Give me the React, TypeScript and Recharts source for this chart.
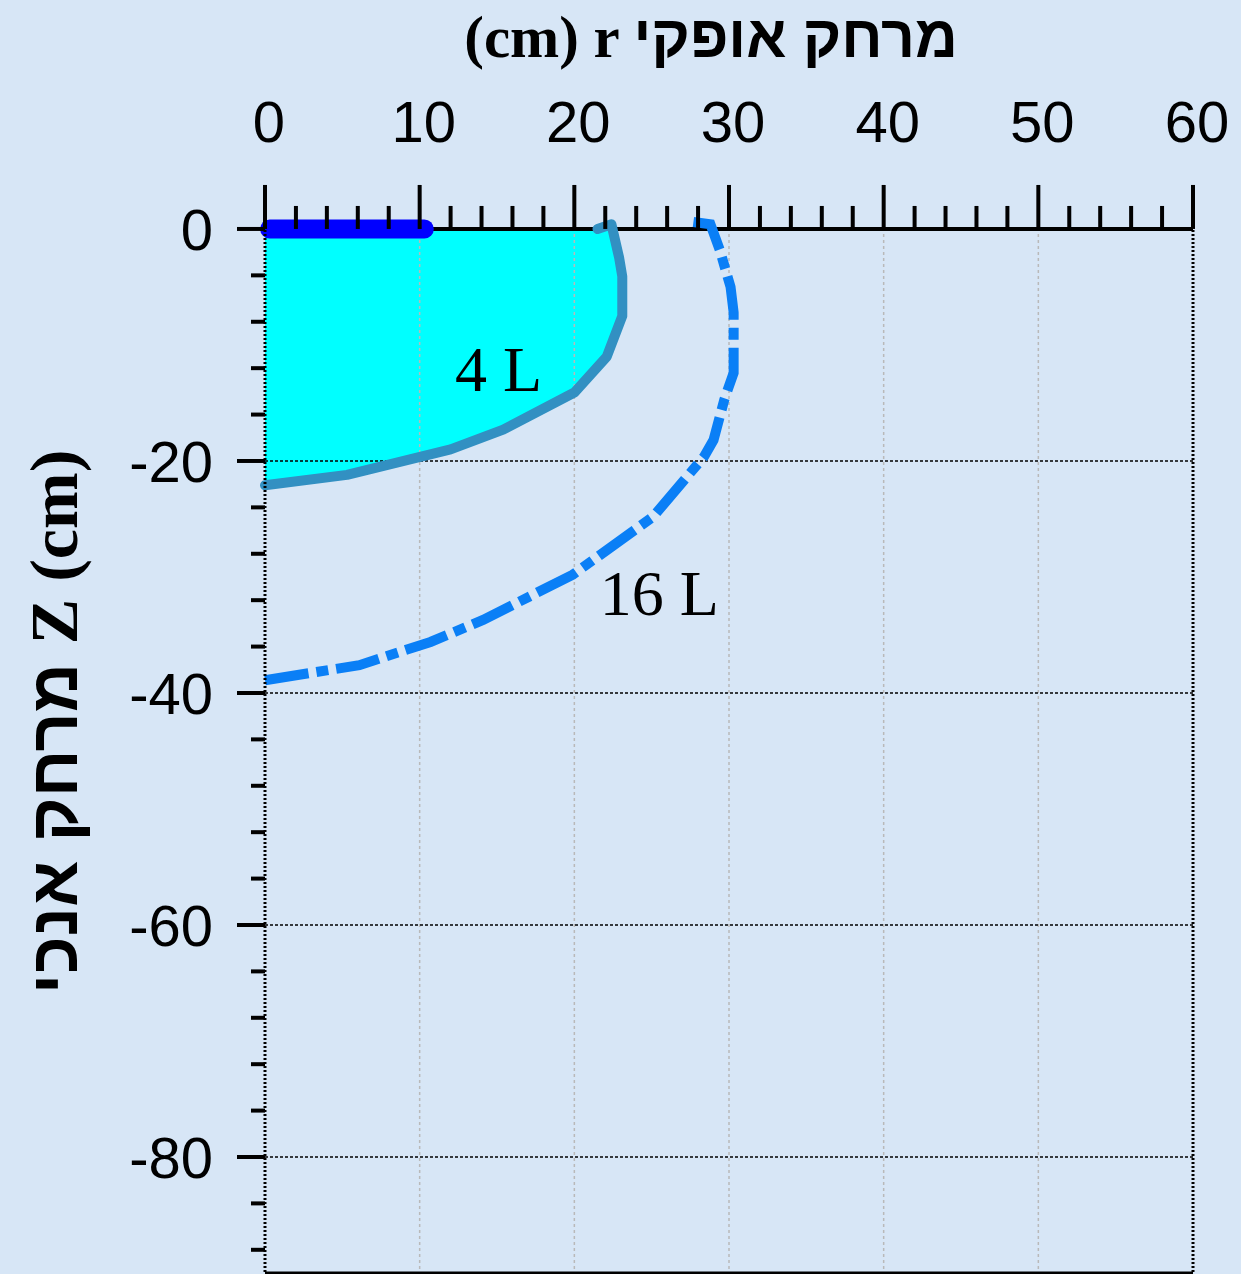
import React from "react";
import { Area, ComposedChart, Line, ReferenceDot, ReferenceLine, XAxis, YAxis } from "recharts";

// horizontal distance r (cm), ticks every 2
const rTicks = [0, 2, 4, 6, 8, 10, 12, 14, 16, 18, 20, 22, 24, 26, 28, 30, 32, 34, 36, 38, 40, 42, 44, 46, 48, 50, 52, 54, 56, 58, 60];
// depth z (cm), ticks every 4
const zTicks = [0, -4, -8, -12, -16, -20, -24, -28, -32, -36, -40, -44, -48, -52, -56, -60, -64, -68, -72, -76, -80, -84, -88];
const gridR = [10, 20, 30, 40, 50];
const gridZ = [-20, -40, -60, -80];

// dripper / source on the surface
const sourceR = [0.3, 10.3];
const sourceZ = [0, 0];

// wetting front after 4 L
const front4R = [21.5, 22.4, 22.9, 23.1, 23.1, 22.1, 20.0, 15.4, 12.0, 5.3, 0];
const front4Z = [0, 0.4, -2.5, -4.1, -7.5, -11.0, -14.1, -17.3, -19.0, -21.2, -22.1];

// wetting front after 16 L
const front16R = [27.7, 28.8, 29.4, 30.1, 30.3, 30.3, 29.7, 29.0, 28.4, 25.1, 19.9, 14.1, 10.7, 6.1, 0];
const front16Z = [0.6, 0.4, -1.8, -5.0, -7.2, -12.4, -14.7, -18.2, -19.6, -24.8, -29.8, -33.7, -35.6, -37.6, -38.9];

const curveLabels = ["4 L", "16 L"];
const curveLabelR = [15.1, 25.5];
const curveLabelZ = [-12.0, -31.3];

const source = sourceR.map((r, i) => ({ r, z: sourceZ[i] }));
const front4 = front4R.map((r, i) => ({ r, z: front4Z[i] }));
const front16 = front16R.map((r, i) => ({ r, z: front16Z[i] }));

const SANS = "'Liberation Sans', Arial, Helvetica, sans-serif";
const SERIF = "'Liberation Serif', 'Times New Roman', serif";

// the fronts poke a little above the surface, so the plot starts slightly above z = 0
const Z_MIN = -90;
const Z_MAX = 0.6;
const PLOT_TOP = 222;
const PLOT_BOTTOM = 1273;
const SURFACE_OFFSET = (Z_MAX * (PLOT_BOTTOM - PLOT_TOP)) / (Z_MAX - Z_MIN);

const RTick = (props: any) => {
  const { x, y, payload } = props;
  const major = payload.value % 10 === 0;
  const base = y + SURFACE_OFFSET;
  return (
    <g>
      <line x1={x} x2={x} y1={base} y2={base - (major ? 44 : 23)} stroke="#000" strokeWidth={4} />
      {major && (
        <text x={x + 4} y={base - 87} textAnchor="middle" fontSize={58} fontFamily={SANS} fill="#000">
          {payload.value}
        </text>
      )}
    </g>
  );
};

const ZTick = (props: any) => {
  const { x, y, payload } = props;
  const major = payload.value % 20 === 0;
  return (
    <g>
      <line x1={x - (major ? 28 : 14)} x2={x} y1={y} y2={y} stroke="#000" strokeWidth={4} />
      {major && (
        <text x={x - 52} y={y} dy="0.36em" textAnchor="end" fontSize={58} fontFamily={SANS} fill="#000">
          {payload.value}
        </text>
      )}
    </g>
  );
};

export default function App() {
  return (
    <div style={{ position: "absolute", left: 0, top: 0, width: 1241, height: 1274, background: "#d7e6f6" }}>
      <ComposedChart width={1241} height={1274} layout="vertical" margin={{ top: 0, right: 48, bottom: 1274 - PLOT_BOTTOM, left: 0 }}>
        <XAxis
          type="number"
          dataKey="r"
          orientation="top"
          domain={[0, 60]}
          ticks={rTicks}
          interval={0}
          height={PLOT_TOP}
          tickSize={0}
          tickMargin={0}
          tick={<RTick />}
          axisLine={false}
        />
        <YAxis
          type="number"
          dataKey="z"
          domain={[Z_MIN, Z_MAX]}
          reversed
          ticks={zTicks}
          interval={0}
          width={265}
          tickSize={0}
          tickMargin={0}
          tick={<ZTick />}
          axisLine={{ stroke: "#000", strokeWidth: 3, strokeDasharray: "2 2" }}
        />
        <Area
          data={front4}
          dataKey="r"
          type="linear"
          fill="#00ffff"
          fillOpacity={1}
          stroke="none"
          isAnimationActive={false}
        />
        {gridR.map((r) => (
          <ReferenceLine key={"gr" + r} x={r} stroke="#b9b9b9" strokeWidth={1.5} strokeDasharray="3 3" />
        ))}
        {gridZ.map((z) => (
          <ReferenceLine key={"gz" + z} y={z} stroke="#000" strokeWidth={1.5} strokeDasharray="3 2" />
        ))}
        <ReferenceLine x={60} stroke="#000" strokeWidth={3} strokeDasharray="2 2" />
        <ReferenceLine y={Z_MIN} stroke="#000" strokeWidth={3} />
        <ReferenceLine y={0} stroke="#000" strokeWidth={4} />
        <Line
          data={front16}
          dataKey="r"
          type="linear"
          stroke="#0a7ff6"
          strokeWidth={10}
          strokeDasharray="44 8 12 8"
          dot={false}
          isAnimationActive={false}
        />
        <Line
          data={front4}
          dataKey="r"
          type="linear"
          stroke="#3290c2"
          strokeWidth={10}
          strokeLinecap="round"
          strokeLinejoin="round"
          dot={false}
          isAnimationActive={false}
        />
        <Line
          data={source}
          dataKey="r"
          type="linear"
          stroke="#0000ff"
          strokeWidth={19}
          strokeLinecap="round"
          dot={false}
          isAnimationActive={false}
        />
        {curveLabels.map((t, i) => (
          <ReferenceDot
            key={t}
            x={curveLabelR[i]}
            y={curveLabelZ[i]}
            r={0}
            stroke="none"
            fill="none"
            label={{ value: t, position: "center", fontSize: 64, fontFamily: SERIF, fill: "#000" }}
          />
        ))}
        <text x={711} y={57} textAnchor="middle" fontSize={59} fontWeight="bold" fill="#000">
          <tspan fontFamily={SERIF}>(cm) r </tspan>
          <tspan fontFamily={SANS}>מרחק אופקי</tspan>
        </text>
        <text
          x={77}
          y={722}
          transform="rotate(-90 77 722)"
          textAnchor="middle"
          fontSize={68}
          fontWeight="bold"
          fill="#000"
        >
          <tspan fontFamily={SANS}>מרחק אנכי </tspan>
          <tspan fontFamily={SERIF}>Z (cm)</tspan>
        </text>
      </ComposedChart>
    </div>
  );
}
